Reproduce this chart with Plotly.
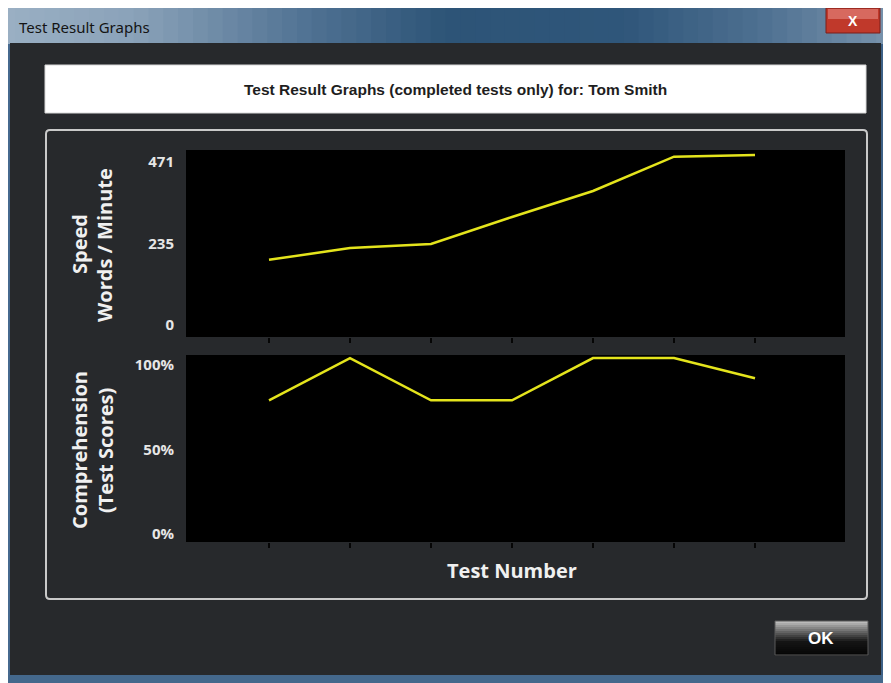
import plotly.graph_objects as go

# ---------------- data ----------------
tests = [1, 2, 3, 4, 5, 6, 7]
speed_wpm = [168, 202, 214, 292, 367, 466, 471]
comprehension_pct = [75, 100, 75, 75, 100, 100, 88]
speed_tickvals = [0, 235, 471]
speed_ticktext = ["0", "235", "471"]
comp_tickvals = [0, 50, 100]
comp_ticktext = ["0%", "50%", "100%"]

OFF = 8  # page body margin
W, H = 891 - OFF, 683 - OFF
def X(px): return (px - OFF) / W
def Y(py): return 1 - (py - OFF) / H

LINE = "#e4e41c"
DLG = "#27292c"

fig = go.Figure()
fig.add_trace(go.Scatter(x=tests, y=speed_wpm, mode="lines",
                         line=dict(color=LINE, width=2.5), xaxis="x", yaxis="y",
                         hoverinfo="skip", showlegend=False))
fig.add_trace(go.Scatter(x=tests, y=comprehension_pct, mode="lines",
                         line=dict(color=LINE, width=2.5), xaxis="x2", yaxis="y2",
                         hoverinfo="skip", showlegend=False))

shapes = []
def rect(x0, y0, x1, y1, fill, line_color=None, lw=0, layer="below"):
    shapes.append(dict(type="rect", xref="paper", yref="paper",
                       x0=X(x0), x1=X(x1), y0=Y(y1), y1=Y(y0),
                       fillcolor=fill, layer=layer,
                       line=dict(color=line_color or fill, width=lw)))

def hex2rgb(h):
    h = h.lstrip("#")
    return [int(h[i:i + 2], 16) for i in (0, 2, 4)]

def lerp_stops(stops, t):
    for (t0, c0), (t1, c1) in zip(stops[:-1], stops[1:]):
        if t0 <= t <= t1:
            f = (t - t0) / (t1 - t0) if t1 > t0 else 0
            a, b = hex2rgb(c0), hex2rgb(c1)
            return "rgb(%d,%d,%d)" % tuple(round(a[i] + (b[i] - a[i]) * f) for i in range(3))
    return stops[-1][1]

# window frame
rect(0, 6, 891, 683, "#4a6d90")
# title bar horizontal gradient
tb_stops = [(0.0, "#9bb0c4"), (0.15, "#8aa2b9"), (0.35, "#4f7192"), (0.5, "#2d5477"),
            (0.7, "#2f567a"), (0.85, "#4d6f90"), (1.0, "#7893ad")]
n = 60
for i in range(n):
    rect(i * 891 / n, 6, (i + 1) * 891 / n + 1, 44, lerp_stops(tb_stops, (i + 0.5) / n))
# side frames
rect(0, 44, 10, 683, "#46698e")
rect(881, 44, 891, 683, "#3d6187")
rect(0, 675, 891, 683, "#44688c")
# client area
rect(10, 43, 881, 675, DLG)
# close button
rect(826, 8, 880, 33, "#c0392b", "#7a1f1a", 1)
rect(828, 9, 878, 19, "#d7695f")
# header white box
rect(45, 65, 866, 113, "#ffffff", "#d8d8d8", 1)
# panel border
shapes.append(dict(type="path", xref="paper", yref="paper", layer="below",
                   path=(f"M {X(50)},{Y(130)} L {X(863)},{Y(130)} Q {X(867)},{Y(130)} {X(867)},{Y(134)} "
                         f"L {X(867)},{Y(595)} Q {X(867)},{Y(599)} {X(863)},{Y(599)} "
                         f"L {X(50)},{Y(599)} Q {X(46)},{Y(599)} {X(46)},{Y(595)} "
                         f"L {X(46)},{Y(134)} Q {X(46)},{Y(130)} {X(50)},{Y(130)} Z"),
                   line=dict(color="#c9c9c9", width=2), fillcolor=DLG))
# OK button
ok_stops = [(0.0, "#c4c4c4"), (0.3, "#6a6a6a"), (0.6, "#151515"), (1.0, "#050505")]
m = 17
for i in range(m):
    rect(775, 621 + i * 34 / m, 868, 621 + (i + 1) * 34 / m + 0.5, lerp_stops(ok_stops, (i + 0.5) / m))
rect(775, 621, 868, 655, "rgba(0,0,0,0)", "#5a5a5a", 1)
# plot areas
rect(186, 150, 845, 337, "#000000")
rect(186, 355, 845, 542, "#000000")

fig.update_layout(shapes=shapes)

xdom = [X(186), X(845)]
xr = [1 - 83 / 81, 1 + 576 / 81]
common_x = dict(range=xr, domain=xdom, showgrid=False, zeroline=False, showline=False,
                tickvals=tests, ticks="outside", ticklen=5, tickwidth=1.5,
                tickcolor="#050505", showticklabels=False, fixedrange=True, automargin=False)
tickfont = dict(family="Open Sans", size=15, color="#e6e6e6", weight="bold")
fig.update_layout(
    width=W, height=H, margin=dict(l=0, r=0, t=0, b=0, pad=0, autoexpand=False),
    paper_bgcolor="#ffffff", plot_bgcolor="#000000",
    xaxis=dict(**common_x, anchor="y"),
    xaxis2=dict(**common_x, anchor="y2"),
    yaxis=dict(domain=[Y(337), Y(150)], range=[-54.9, 485.4], tickvals=speed_tickvals,
               ticktext=speed_ticktext, showgrid=False, zeroline=False, showline=False,
               ticks="", tickfont=tickfont, ticklabelstandoff=11, ticklabelshift=7,
               anchor="x", fixedrange=True, automargin=False),
    yaxis2=dict(domain=[Y(542), Y(355)], range=[-8.9, 101.8], tickvals=comp_tickvals,
                ticktext=comp_ticktext, showgrid=False, zeroline=False, showline=False,
                ticks="", tickfont=tickfont, ticklabelstandoff=11, ticklabelshift=7,
                anchor="x2", fixedrange=True, automargin=False),
)

def text(x, y, s, size, color, family="Open Sans", bold=True, angle=0, anchor="center"):
    fig.add_annotation(x=X(x), y=Y(y), xref="paper", yref="paper", text=s,
                       showarrow=False, textangle=angle, xanchor=anchor, yanchor="middle",
                       font=dict(family=family, size=size, color=color,
                                 weight="bold" if bold else "normal"))

text(17, 27, "Test Result Graphs", 15, "#141414", family="Noto Sans", bold=False, anchor="left")
text(853, 21, "X", 14, "#ffffff", family="Liberation Sans")
text(456, 89, "Test Result Graphs (completed tests only) for: Tom Smith", 15.5, "#1e1e1e",
     family="Liberation Sans")
text(79, 244, "Speed", 20, "#f0f0f0", angle=-90)
text(104, 245, "Words / Minute", 20, "#f0f0f0", angle=-90)
text(79, 450, "Comprehension", 20, "#f0f0f0", angle=-90)
text(105, 451, "(Test Scores)", 20, "#f0f0f0", angle=-90)
text(512, 570, "Test Number", 20, "#f0f0f0")
text(821, 638, "OK", 17, "#ffffff", family="Liberation Sans")

fig.write_html("out.html")
